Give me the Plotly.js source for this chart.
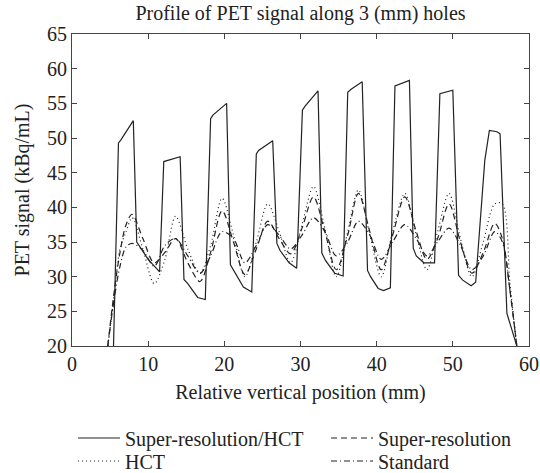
<!DOCTYPE html>
<html>
<head>
<meta charset="utf-8">
<script src="https://cdn.plot.ly/plotly-3.0.1.min.js"></script>
<style>html,body{margin:0;padding:0;background:#fff}#chart{width:540px;height:473px}</style>
</head>
<body>
<div id="chart"></div>
<script>
// Super-resolution/HCT (solid)
const srhctX = [5.45,6.1,6.4,8.05,8.5,8.9,10.0,11.5,12.05,14.2,14.7,15.2,16.5,17.5,18.2,18.5,20.3,20.8,21.3,22.5,23.6,24.2,24.5,26.35,26.9,27.3,28.5,29.5,30.25,30.6,32.3,32.8,33.3,34.5,35.6,36.2,36.6,38.1,38.8,39.2,40.2,40.9,41.8,42.4,44.3,44.8,45.2,46.2,47.6,48.3,50.0,50.75,51.3,52.4,53.0,54.2,54.8,55.8,56.2,57.1,58.4];
const srhctY = [20,49.3,49.7,52.5,35.0,34.3,32.5,30.7,46.6,47.3,29.6,29.0,27.0,26.7,52.8,53.3,55.0,31.7,30.8,28.5,27.8,47.7,48.2,49.6,34.8,33.8,32.0,31.2,54.0,54.6,56.8,33.4,32.3,30.5,30.1,56.6,57.0,58.1,30.9,30.0,28.3,28.0,28.4,57.5,58.3,34.1,33.0,32.0,32.0,56.4,56.9,30.2,29.5,28.7,29.2,46.8,51.1,50.9,50.6,24.7,20];

// Smooth profiles share one position grid
const gridX = [4.7,5.5,6.3,7.1,7.9,9.3,10.8,12.2,13.6,15.2,16.8,18.2,19.7,21.2,22.7,24.2,25.7,27.2,28.7,30.2,31.7,33.2,34.7,36.2,37.6,39.1,40.6,42.1,43.7,45.2,46.6,48.0,49.5,51.0,52.5,54.0,55.5,56.5,57.5,58.4];
const srY  = [20,27.5,33.5,37.5,39.0,35.5,32.0,33.5,35.5,32.0,29.3,33.5,39.5,35.0,30.3,34.0,38.0,35.5,33.3,37.0,41.5,36.5,31.0,36.0,42.0,36.5,31.0,36.0,41.5,36.5,32.5,35.5,40.5,35.0,30.5,33.5,37.7,35.5,28.0,20];
const hctY = [20,27.0,34.0,36.5,38.5,34.0,29.0,32.5,38.7,34.0,30.5,34.5,41.3,36.0,30.0,35.0,40.5,36.5,32.0,37.5,43.0,37.0,30.0,36.5,42.5,36.0,30.0,36.5,42.0,36.0,31.0,36.5,42.0,35.5,30.0,35.0,40.5,40.5,29.0,20];
const stdY = [20,26.5,31.5,34.3,34.8,33.8,31.5,34.5,35.5,33.0,30.5,33.0,36.5,35.5,32.0,34.5,37.5,36.0,34.0,36.0,38.5,36.5,33.0,35.0,38.0,36.0,32.5,35.0,37.5,35.5,33.0,35.0,37.0,34.5,31.0,33.0,36.5,35.0,28.0,20];

const names = ['Super-resolution/HCT','Super-resolution','HCT','Standard'];
const xTicks = [0,10,20,30,40,50,60];
const yTicks = [20,25,30,35,40,45,50,55,60,65];

const FONT = "'Liberation Serif', 'Times New Roman', serif";
const INK = '#222';
const FS = 20;
const LFS = 20;

const traces = [
  {x: srhctX, y: srhctY, name: names[0], mode:'lines', line:{color:INK, width:1.2, dash:'solid'}, legend:'legend'},
  {x: gridX, y: srY, name: names[1], mode:'lines', line:{color:INK, width:1.2, dash:'6px,4px', shape:'spline', smoothing:0.9}, legend:'legend2'},
  {x: gridX, y: hctY, name: names[2], mode:'lines', line:{color:INK, width:1.2, dash:'1px,3px', shape:'spline', smoothing:0.9}, legend:'legend3'},
  {x: gridX, y: stdY, name: names[3], mode:'lines', line:{color:INK, width:1.2, dash:'6px,3px,1px,3px', shape:'spline', smoothing:0.9}, legend:'legend4'}
];

const axisCommon = {
  showline:true, mirror:'ticks', linecolor:'#444', linewidth:1,
  ticks:'inside', ticklen:5, tickcolor:'#444', showgrid:false, zeroline:false, automargin:false,
  tickfont:{family:FONT, size:FS, color:INK}
};

function leg(xpx, ypx) {
  return {xref:'paper', yref:'paper', x:(xpx-72)/457, y:(346-ypx)/312, xanchor:'left', yanchor:'middle',
    orientation:'v', itemwidth:42, bgcolor:'rgba(0,0,0,0)', borderwidth:0, font:{family:FONT, size:LFS, color:INK}};
}

const layout = {
  width:540, height:473,
  margin:{l:72, r:11, t:34, b:127, autoexpand:false},
  paper_bgcolor:'#fff', plot_bgcolor:'#fff',
  font:{family:FONT, size:FS, color:INK},
  title:{text:'Profile of PET signal along 3 (mm) holes', font:{family:FONT, size:FS, color:INK}, x:0.5, xref:'paper', xanchor:'center', y:1-13/473, yref:'container', yanchor:'middle'},
  xaxis:Object.assign({}, axisCommon, {range:[0,60], tickvals:xTicks, ticktext:xTicks.map(String),
    title:{text:'Relative vertical position (mm)', font:{family:FONT, size:FS, color:INK}, standoff:10}}),
  yaxis:Object.assign({}, axisCommon, {range:[20,65], tickvals:yTicks, ticktext:yTicks.map(String),
    title:{text:'PET signal (kBq/mL)', font:{family:FONT, size:FS, color:INK}, standoff:12}}),
  showlegend:true,
  legend: leg(73, 438),
  legend2: leg(326, 438),
  legend3: leg(73, 461),
  legend4: leg(326, 461)
};

Plotly.newPlot('chart', traces, layout, {displayModeBar:false, staticPlot:true});
</script>
</body>
</html>
